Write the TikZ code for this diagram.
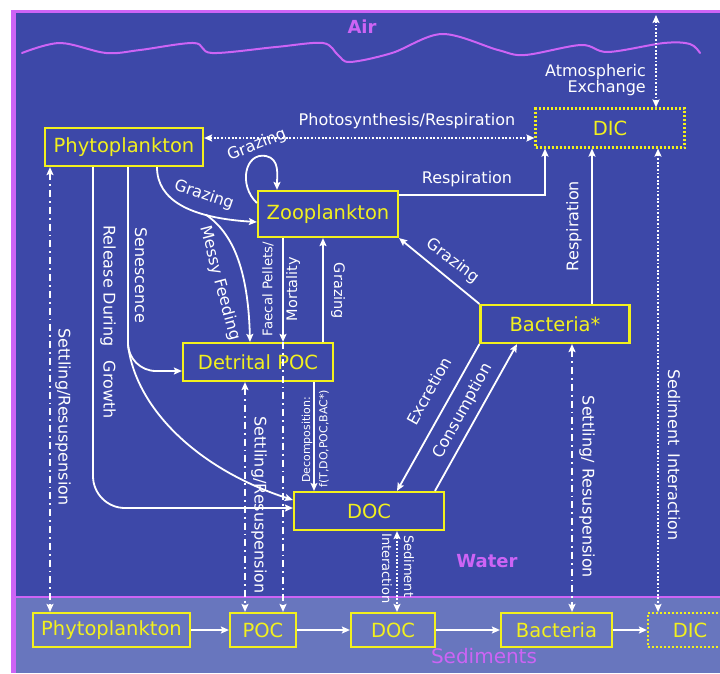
\documentclass[tikz,border=0pt]{standalone}
\usepackage{fontspec}
\setmainfont{DejaVu Sans}
\usetikzlibrary{arrows.meta}
\definecolor{bgblue}{RGB}{61,72,168}
\definecolor{sedblue}{RGB}{104,118,190}
\definecolor{airpurple}{RGB}{205,100,245}
\definecolor{ylw}{RGB}{242,240,30}
\tikzset{
  wt/.tip={Stealth[length=8pt,width=7pt,inset=1.5pt]},
  ybox/.style={draw=ylw, line width=2.2pt, text=ylw, inner sep=0pt, font=\fontsize{19.5}{21}\selectfont},
  dbox/.style={ybox, dash pattern=on 2pt off 2pt},
  lbl/.style={text=white, inner sep=0pt, font=\fontsize{16}{17}\selectfont},
  slbl/.style={text=white, inner sep=0pt, font=\fontsize{13.3}{15}\selectfont},
  tlbl/.style={text=white, inner sep=0pt, font=\fontsize{11}{12}\selectfont},
  region/.style={text=airpurple, inner sep=0pt, font=\bfseries\fontsize{18}{20}\selectfont},
  arr/.style={draw=white, line width=1.8pt, -{wt}},
  darr/.style={draw=white, line width=1.8pt, dash pattern=on 1.8pt off 1.8pt, {wt}-{wt}},
  ddarr/.style={draw=white, line width=1.8pt, dash pattern=on 7pt off 4pt on 1.8pt off 4pt, {wt}-{wt}},
  ddline/.style={draw=white, line width=1.8pt, dash pattern=on 7pt off 4pt on 1.8pt off 4pt, -{wt}}
}
\begin{document}
\begin{tikzpicture}[x=1pt,y=-1pt]
\useasboundingbox (0,0) rectangle (720,673);
\fill[white] (0,0) rectangle (720,673);
\fill[bgblue] (11,10) rectangle (720,673);
\fill[sedblue] (16,597) rectangle (720,673);
\draw[airpurple,line width=2.5pt] (16,597) -- (720,597);
\fill[airpurple] (11,10) rectangle (16,673);
\fill[airpurple] (11,10) rectangle (720,13);
\draw[airpurple, line width=2pt, line cap=round] plot[smooth,tension=0.55] coordinates {(22,53) (60,43) (106,53) (140,50) (194,43) (212,53) (276,47) (323,43) (338,55) (350,62) (392,53) (442,34) (498,50) (525,55) (581,45) (608,52) (664,43) (690,44) (700,53)};

% region labels
\node[region] (air) at (362,27) {Air};
\node[region] (water) at (487,561) {Water};
\node[region, font=\fontsize{20}{22}\selectfont] (sedlbl) at (484,656) {Sediments};

% water column boxes
\node[ybox, minimum width=158pt, minimum height=38pt] (phyto) at (124,147) {Phytoplankton};
\node[ybox, minimum width=140pt, minimum height=46pt] (zoo) at (328,214) {Zooplankton};
\node[dbox, minimum width=149pt, minimum height=39pt] (dic) at (610,128) {DIC};
\node[ybox, minimum width=149pt, minimum height=38pt] (bact) at (555,324) {Bacteria*};
\node[ybox, minimum width=150pt, minimum height=38pt] (detpoc) at (258,362) {Detrital POC};
\node[ybox, minimum width=150pt, minimum height=38pt] (doc) at (369,511) {DOC};

% sediment boxes
\node[ybox, minimum width=157pt, minimum height=34pt] (sphyto) at (111.5,630) {Phytoplankton};
\node[ybox, minimum width=66pt, minimum height=34pt] (spoc) at (263,630) {POC};
\node[ybox, minimum width=84pt, minimum height=34pt] (sdoc) at (393,630) {DOC};
\node[ybox, minimum width=111pt, minimum height=34pt] (sbact) at (556.5,630) {Bacteria};
\node[dbox, minimum width=84pt, minimum height=34pt] (sdic) at (690,630) {DIC};

% helper coordinates
\coordinate (atm) at (656,15);
\coordinate (sedx) at (658,0);
\coordinate (fx) at (283,0);

% atmospheric exchange
\draw[darr] (atm) -- (atm |- dic.north);
\node[lbl, align=right, anchor=east, font=\fontsize{16}{15}\selectfont] (atmlbl) at (646,80) {Atmospheric\\Exchange};

% photosynthesis / respiration
\draw[darr] ([yshift=9pt]phyto.east) -- ([yshift=-10pt]dic.west);
\node[lbl] (photolbl) at (407,121) {Photosynthesis/Respiration};

% sediment interaction (DIC)
\draw[darr] (sedx |- dic.south) -- (sedx |- sdic.north);
\node[lbl, rotate=-90] (sedintlbl) at (674,455) {Sediment\hspace{8pt}Interaction};

% grazing phyto -> zoo, messy feeding
\draw[arr] ([xshift=33pt]phyto.south) .. controls (157,200) and (190,218) .. coordinate[pos=0.7] (mf) ([yshift=-8pt]zoo.west);
\node[lbl, rotate=-19] (graz1) at (204,195) {Grazing};
\draw[arr] (mf) .. controls (228,230) and (248,260) .. ([xshift=-8pt]detpoc.north);
\node[lbl, rotate=-75] (messy) at (220,283) {Messy Feeding};

% zoo self loop
\draw[arr] ([yshift=11pt]zoo.west) .. controls (238,185) and (245,152) .. (266,156) .. controls (280,159) and (277,175) .. ([xshift=-51pt]zoo.north);
\node[lbl, rotate=22] (graz2) at (257,145) {Grazing};

% faecal pellets / mortality
\draw[arr] ([xshift=-45pt]zoo.south) -- ([xshift=-45pt]zoo.south |- detpoc.north);
\node[slbl, rotate=90] (faecal) at (268,289) {Faecal Pellets/};
\node[slbl, rotate=90, font=\fontsize{14.5}{16}\selectfont] (mort) at (293,289) {Mortality};
\draw[ddline] (fx |- detpoc.north) -- (fx |- spoc.north);

% grazing detrital -> zoo
\draw[arr] ([xshift=65pt]detpoc.north) -- ([xshift=65pt]detpoc.north |- zoo.south);
\node[slbl, rotate=-90, font=\fontsize{14.5}{16}\selectfont] (graz3) at (338,291) {Grazing};

% respiration zoo -> DIC
\draw[arr] ([yshift=19pt]zoo.east) -| ([xshift=-65pt]dic.south);
\node[lbl] (resp1) at (467,179) {Respiration};

% respiration bacteria -> DIC
\draw[arr] ([xshift=37pt]bact.north) -- ([xshift=37pt]bact.north |- dic.south);
\node[lbl, rotate=90] (resp2) at (574,226) {Respiration};

% grazing bacteria -> zoo
\draw[arr] (bact.north west) -- (zoo.south east);
\node[lbl, rotate=-37] (graz4) at (453,261) {Grazing};

% excretion / consumption
\draw[arr] (bact.south west) -- ([xshift=28pt]doc.north);
\node[lbl, rotate=61] (excr) at (429,391) {Excretion};
\draw[arr] ([xshift=66pt]doc.north) -- ([xshift=-38pt]bact.south);
\node[lbl, rotate=61] (cons) at (463,411) {Consumption};

% senescence
\draw[arr, rounded corners=28pt] ([xshift=4pt]phyto.south) |- ([yshift=-9pt]detpoc.west);
\draw[arr] (128,345) .. controls (136,410) and (200,470) .. ([yshift=11pt]doc.west);
\node[lbl, rotate=-90] (senlbl) at (141,275) {Senescence};

% release during growth
\draw[arr, rounded corners=32pt] ([xshift=-31pt]phyto.south) |- ([yshift=3pt]doc.west);
\node[lbl, rotate=-90] (rdg) at (108,322) {Release During\hspace{14pt}Growth};

% decomposition
\draw[arr, line width=1.4pt] ([xshift=56pt]detpoc.south) -- ([xshift=56pt]detpoc.south |- doc.north);
\node[tlbl, rotate=90, anchor=west] (decomp1) at (307,483) {Decomposition:};
\node[tlbl, rotate=90, anchor=west] (decomp2) at (324,488) {f(T,DO,POC,BAC*)};

% settling / resuspension
\draw[ddarr] ([xshift=-74pt]phyto.south) -- ([xshift=-74pt]phyto.south |- sphyto.north);
\node[lbl, rotate=-90] (set1) at (63,417) {Settling/Resuspension};
\draw[ddarr] ([xshift=-13pt]detpoc.south) -- ([xshift=-13pt]detpoc.south |- spoc.north);
\node[lbl, rotate=-90] (set2) at (259,505) {Settling/Resuspension};
\draw[ddarr] ([xshift=17pt]bact.south) -- ([xshift=17pt]bact.south |- sbact.north);
\node[lbl, rotate=-90] (set3) at (587,487) {Settling/ Resuspension};

% DOC sediment interaction
\draw[darr] ([xshift=28pt]doc.south) -- ([xshift=28pt]doc.south |- sdoc.north);
\node[slbl, rotate=-90, anchor=west, font=\fontsize{13}{14}\selectfont] (sdi1) at (409,535) {Sediment};
\node[slbl, rotate=-90, anchor=west, font=\fontsize{13}{14}\selectfont] (sdi2) at (387,533) {Interaction};

% sediment chain
\draw[arr] (sphyto.east) -- (spoc.west);
\draw[arr] (spoc.east) -- (sdoc.west);
\draw[arr] (sdoc.east) -- (sbact.west);
\draw[arr] (sbact.east) -- (sdic.west);
\end{tikzpicture}
\end{document}
